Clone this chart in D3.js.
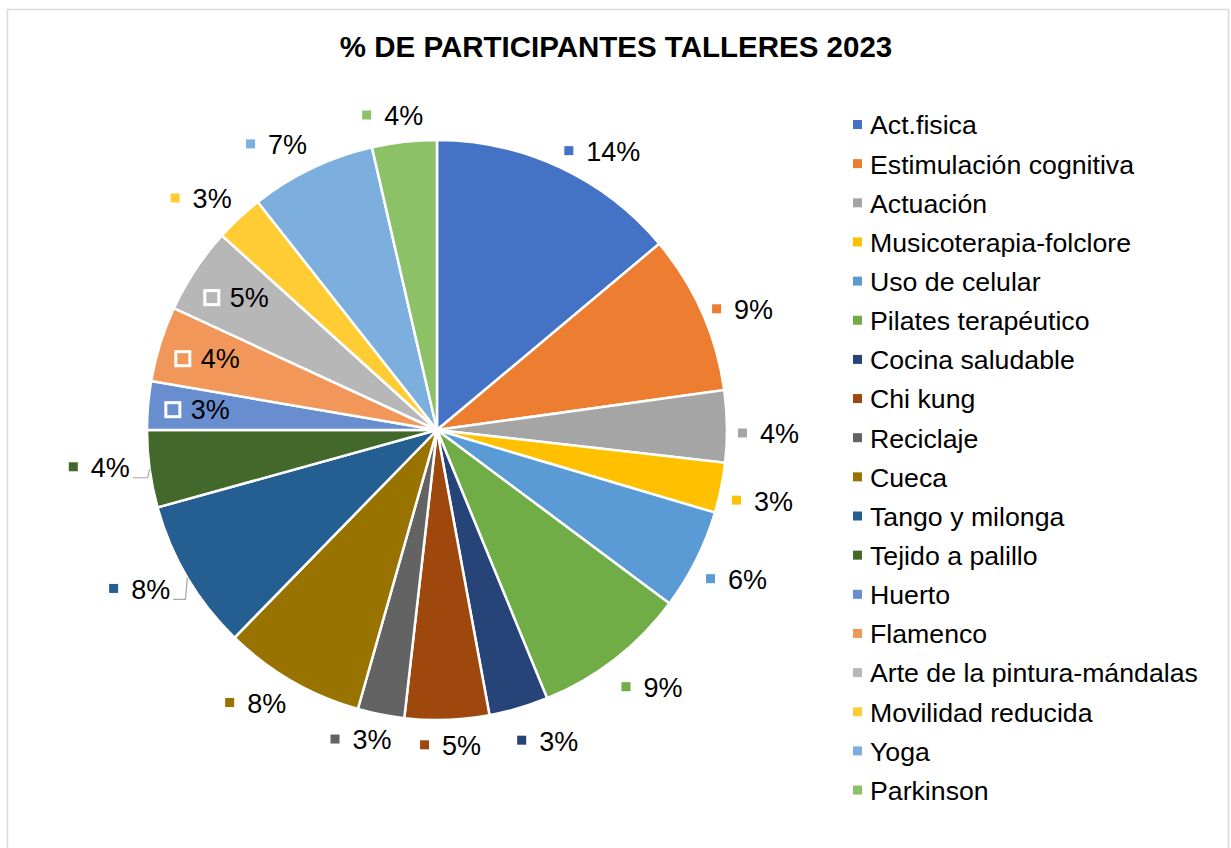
<!DOCTYPE html>
<html>
<head>
<meta charset="utf-8">
<script src="https://cdn.jsdelivr.net/npm/d3@7"></script>
<style>
  body { margin: 0; background: #fff; }
  svg text { font-family: "Liberation Sans", Arial, sans-serif; fill: #000; }
</style>
</head>
<body>
<svg id="pie" width="1231" height="848"></svg>
<script>
// talleres y su participacion (porcentaje aproximado)
var talleres = ["Act.fisica", "Estimulación cognitiva", "Actuación", "Musicoterapia-folclore",
    "Uso de celular", "Pilates terapéutico", "Cocina saludable", "Chi kung", "Reciclaje",
    "Cueca", "Tango y milonga", "Tejido a palillo", "Huerto", "Flamenco",
    "Arte de la pintura-mándalas", "Movilidad reducida", "Yoga", "Parkinson"];
var participacion = [13.9, 8.9, 4.0, 2.8, 5.6, 8.6, 3.3, 4.7, 2.6, 7.9, 8.4, 4.3, 2.7, 4.2, 4.8, 2.7, 7.0, 3.6];
var colores = ["#4472C4", "#ED7D31", "#A5A5A5", "#FFC000", "#5B9BD5", "#70AD47", "#264478", "#9E480E",
    "#636363", "#997300", "#255E91", "#43682B", "#698ED0", "#F1975A", "#B7B7B7", "#FFCD33", "#7CAFDD", "#8CC168"];
var titulo = "% DE PARTICIPANTES TALLERES 2023";

var interiores = ["Huerto", "Flamenco", "Arte de la pintura-mándalas"];
var conGuia = ["Tango y milonga", "Tejido a palillo"];

var width = 1231, height = 848;
var cx = 437, cy = 430, radius = 290;

var svg = d3.select("#pie");

// borde del area del grafico
svg.append("rect")
    .attr("x", 7.5).attr("y", 9.5)
    .attr("width", 1221).attr("height", 860)
    .attr("fill", "#fff")
    .attr("stroke", "#d9d9d9")
    .attr("stroke-width", 1.5);

svg.append("text")
    .attr("x", 616)
    .attr("y", 57)
    .attr("font-size", "29.5px")
    .attr("font-weight", "bold")
    .style("text-anchor", "middle")
    .text(titulo);

var data = talleres.map((t, i) => ({ name: t, value: participacion[i] }));
var total = d3.sum(participacion);
var color = d3.scaleOrdinal().domain(talleres).range(colores);

var arcs = d3.pie().sort(null).value(d => d.value)(data);
var path = d3.arc().innerRadius(0).outerRadius(radius);

var chart = svg.append("g")
    .attr("transform", "translate(" + cx + "," + cy + ")");

chart.selectAll(".arc")
    .data(arcs)
    .enter()
    .append("path")
    .classed("arc", true)
    .attr("fill", d => color(d.data.name))
    .attr("stroke", "#fff")
    .attr("stroke-width", 2.5)
    .attr("d", path);

// etiquetas de datos
var fmt = v => Math.round(v / total * 100) + "%";
var clamp = v => Math.max(-1, Math.min(1, v));

arcs.forEach(d => {
    var a = (d.startAngle + d.endAngle) / 2;
    var name = d.data.name;
    var inside = interiores.includes(name);
    var guia = conGuia.includes(name);
    var g = chart.append("g");
    var t = g.append("text")
        .attr("font-size", "27px")
        .attr("dy", "0.35em")
        .text(fmt(d.data.value));
    var tw = t.node().getComputedTextLength();
    var mk = inside ? 14 : 9, gap = inside ? 11 : 13;
    var bw = mk + gap + tw, bh = 30;
    var x, y;
    if (inside) {
        x = Math.sin(a) * 240;
        y = -Math.cos(a) * 240;
    } else {
        var r = guia ? 310 : 301;
        x = Math.sin(a) * r + bw / 2 * clamp(3 * Math.sin(a));
        y = -Math.cos(a) * r - bh / 2 * Math.cos(a);
        if (Math.sin(a) > 0.2) y += 8;
        if (guia) y -= 6;
    }
    g.attr("transform", "translate(" + x + "," + y + ")");
    t.attr("x", -bw / 2 + mk + gap);
    if (inside) {
        g.append("rect")
            .attr("x", -bw / 2).attr("y", -mk / 2)
            .attr("width", mk).attr("height", mk)
            .attr("fill", color(name))
            .attr("stroke", "#fff")
            .attr("stroke-width", 3);
    } else {
        g.append("rect")
            .attr("x", -bw / 2).attr("y", -mk / 2 - 1)
            .attr("width", mk).attr("height", mk)
            .attr("fill", color(name));
    }
    if (guia) {
        var ex = Math.sin(a) * radius, ey = -Math.cos(a) * radius;
        var lx = x + bw / 2 + 3, ly = y + 10;
        chart.append("path")
            .attr("d", "M" + ex + "," + ey + "L" + (ex - 2) + "," + ly + "L" + lx + "," + ly)
            .attr("fill", "none")
            .attr("stroke", "#a6a6a6")
            .attr("stroke-width", 1.2);
    }
});

// leyenda
var legend = svg.append("g").attr("transform", "translate(853,125)");
var row = d3.scaleBand().domain(talleres).range([0, 39.15 * talleres.length]);
var items = legend.selectAll(".item")
    .data(talleres)
    .enter()
    .append("g")
    .attr("transform", d => "translate(0," + row(d) + ")");
items.append("rect")
    .attr("x", 0).attr("y", -5)
    .attr("width", 9).attr("height", 9)
    .attr("fill", d => color(d));
items.append("text")
    .attr("x", 17)
    .attr("dy", "0.35em")
    .attr("font-size", "26.7px")
    .text(d => d);
</script>
</body>
</html>
